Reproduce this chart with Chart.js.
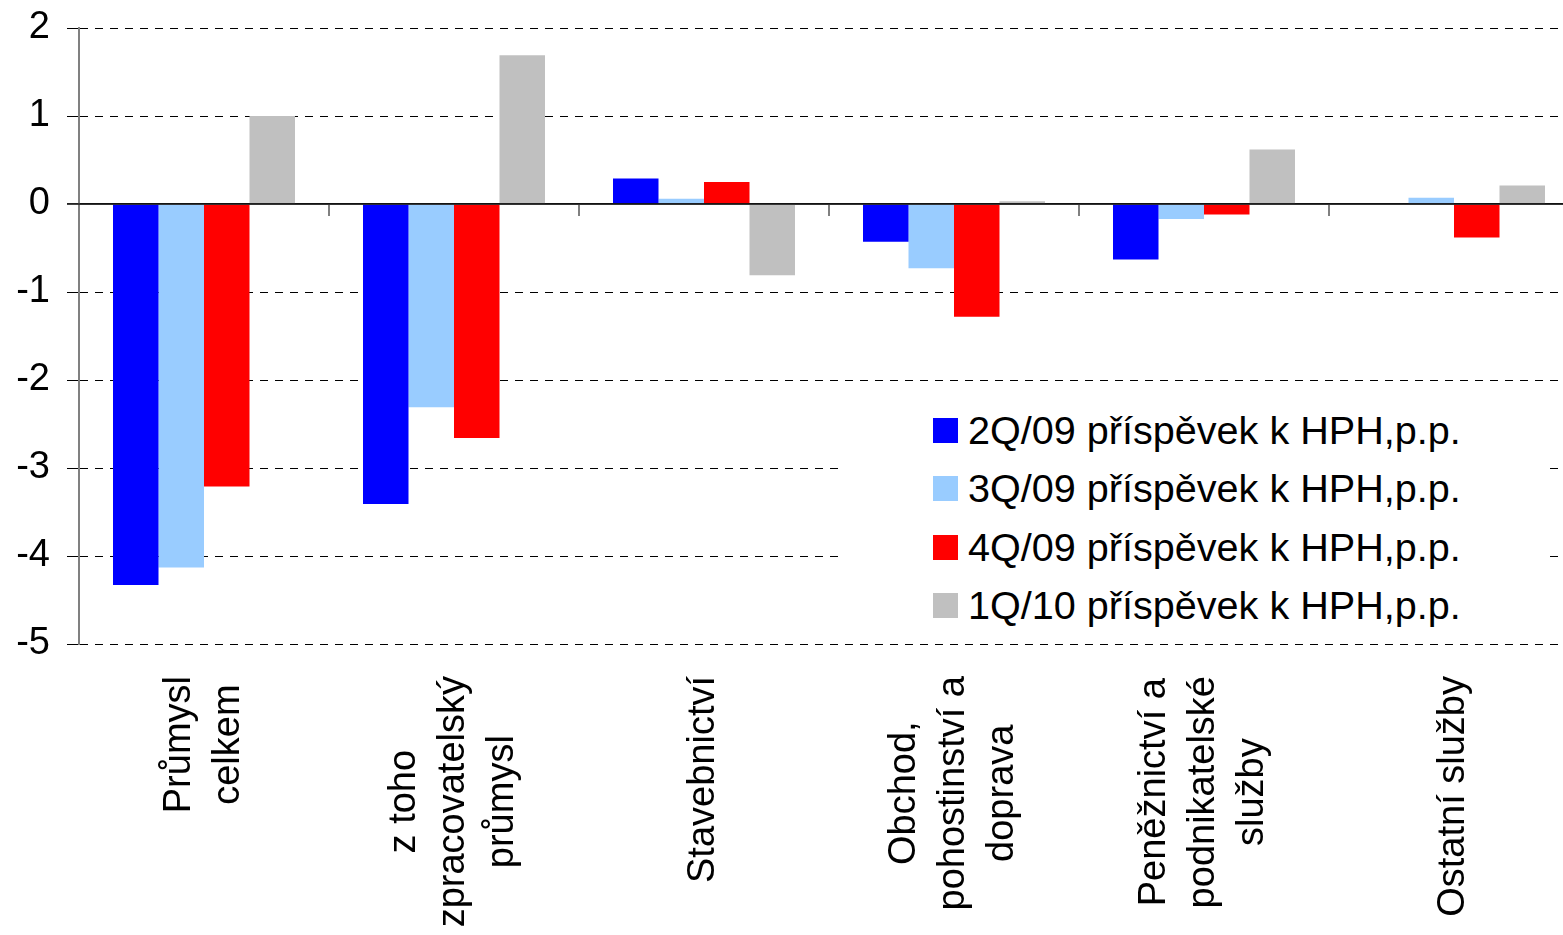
<!DOCTYPE html>
<html lang="cs">
<head>
<meta charset="utf-8">
<title>Příspěvky odvětví k HPH</title>
<script src="https://cdn.jsdelivr.net/npm/chart.js@4/dist/chart.umd.min.js"></script>
<style>
  html, body { margin: 0; padding: 0; background: #fff; overflow: hidden; }
  #wrap { position: relative; width: 1579px; height: 935px; }
  #c { display: block; }
  #legend {
    position: absolute; left: 840px; top: 392px; width: 706px; height: 240px;
    background: #fff; box-sizing: border-box; padding: 9px 0 0 93px;
    font-family: "Liberation Sans", Arial, sans-serif; font-size: 39.6px; color: #000;
  }
  #legend .row { display: flex; align-items: center; height: 58.5px; white-space: nowrap; }
  #legend .sw { width: 25px; height: 25px; margin-right: 10px; flex: none; }
</style>
</head>
<body>
<div id="wrap">
  <canvas id="c" width="1579" height="935"></canvas>
  <div id="legend"></div>
</div>
<script>
// Odvětví (řádky popisků na ose x)
const categories = [
  ["Průmysl", "celkem"],
  ["z toho", "zpracovatelský", "průmysl"],
  ["Stavebnictví"],
  ["Obchod,", "pohostinství a", "doprava"],
  ["Peněžnictví a", "podnikatelské", "služby"],
  ["Ostatní služby"]
];

// Názvy řad
const seriesNames = [
  "2Q/09 příspěvek k HPH,p.p.",
  "3Q/09 příspěvek k HPH,p.p.",
  "4Q/09 příspěvek k HPH,p.p.",
  "1Q/10 příspěvek k HPH,p.p."
];

// Příspěvky k HPH v procentních bodech
const q2_09 = [-4.33, -3.41, 0.29, -0.43, -0.63, 0.00];
const q3_09 = [-4.13, -2.31, 0.06, -0.73, -0.17, 0.07];
const q4_09 = [-3.21, -2.66, 0.25, -1.28, -0.12, -0.38];
const q1_10 = [1.00, 1.69, -0.81, 0.03, 0.62, 0.21];

// Popisky osy y
const yTicks = [2, 1, 0, -1, -2, -3, -4, -5];

const seriesColors = ["#0000FF", "#99CCFF", "#FF0000", "#C0C0C0"];
const seriesValues = [q2_09, q3_09, q4_09, q1_10];

const FONT = '"Liberation Sans", Arial, sans-serif';

// Popisky kategorií: svisle otočené, řádky vzájemně vycentrované
const categoryLabels = {
  id: "categoryLabels",
  afterDraw(chart) {
    const ctx = chart.ctx;
    const xs = chart.scales.x;
    const area = chart.chartArea;
    const size = 38, lineH = 49;
    ctx.save();
    ctx.font = size + "px " + FONT;
    ctx.fillStyle = "#000";
    ctx.textAlign = "center";
    ctx.textBaseline = "middle";
    categories.forEach((lines, i) => {
      const cx = xs.getPixelForValue(i);
      const maxW = Math.max(...lines.map(l => ctx.measureText(l).width));
      const top = area.bottom + 32;
      ctx.save();
      ctx.translate(cx, top + maxW / 2);
      ctx.rotate(-Math.PI / 2);
      lines.forEach((line, k) => {
        ctx.fillText(line, 0, (k - (lines.length - 1) / 2) * lineH);
      });
      ctx.restore();
    });
    ctx.restore();
  }
};

// Značky hranic kategorií pod nulovou osou
const categoryTicks = {
  id: "categoryTicks",
  afterDatasetsDraw(chart) {
    const ctx = chart.ctx;
    const xs = chart.scales.x;
    const y0 = chart.scales.y.getPixelForValue(0);
    ctx.save();
    ctx.strokeStyle = "#808080";
    ctx.lineWidth = 2;
    ctx.beginPath();
    for (let i = 0; i < categories.length; i++) {
      const a = xs.getPixelForValue(i);
      const b = i + 1 < categories.length ? xs.getPixelForValue(i + 1) : a + (a - xs.getPixelForValue(i - 1));
      const bx = Math.round((a + b) / 2);
      ctx.moveTo(bx, y0 + 1);
      ctx.lineTo(bx, y0 + 12);
    }
    ctx.stroke();
    // nulová osa přes sloupce
    ctx.strokeStyle = "#1a1a1a";
    ctx.lineWidth = 1.5;
    ctx.beginPath();
    ctx.moveTo(chart.chartArea.left - 12, y0);
    ctx.lineTo(chart.chartArea.right, y0);
    ctx.stroke();
    ctx.restore();
  }
};

const chart = new Chart(document.getElementById("c"), {
  type: "bar",
  data: {
    labels: categories.map(l => l.join(" ")),
    datasets: seriesNames.map((name, i) => ({
      label: name,
      data: seriesValues[i],
      backgroundColor: seriesColors[i],
      borderWidth: 0,
      categoryPercentage: 0.728,
      barPercentage: 1.0
    }))
  },
  options: {
    responsive: false,
    devicePixelRatio: 1,
    animation: false,
    layout: { padding: { top: 28, bottom: 291, left: 0, right: 0 } },
    plugins: {
      legend: { display: false },
      tooltip: { enabled: false }
    },
    scales: {
      x: { display: false },
      y: {
        min: -5,
        max: 2,
        afterFit(scale) {
          scale.width = 79;
          scale.paddingTop = 0;
          scale.paddingBottom = 0;
        },
        ticks: {
          stepSize: 1,
          padding: 17,
          color: "#000",
          font: { family: FONT, size: 38 },
          callback: v => (yTicks.includes(v) ? String(v) : "")
        },
        grid: {
          color: "#000",
          lineWidth: c => (c.tick && c.tick.value === 0 ? 1.5 : 1),
          tickLength: 12,
          tickColor: "#000",
          tickWidth: 1
        },
        border: {
          display: true,
          color: "#808080",
          width: 2,
          dash: c => (c.tick && c.tick.value === 0 ? [] : [8, 7])
        }
      }
    }
  },
  plugins: [categoryTicks, categoryLabels]
});

// Legenda
const legend = document.getElementById("legend");
seriesNames.forEach((name, i) => {
  const row = document.createElement("div");
  row.className = "row";
  const sw = document.createElement("span");
  sw.className = "sw";
  sw.style.background = seriesColors[i];
  const tx = document.createElement("span");
  tx.textContent = name;
  row.appendChild(sw);
  row.appendChild(tx);
  legend.appendChild(row);
});
</script>
</body>
</html>
